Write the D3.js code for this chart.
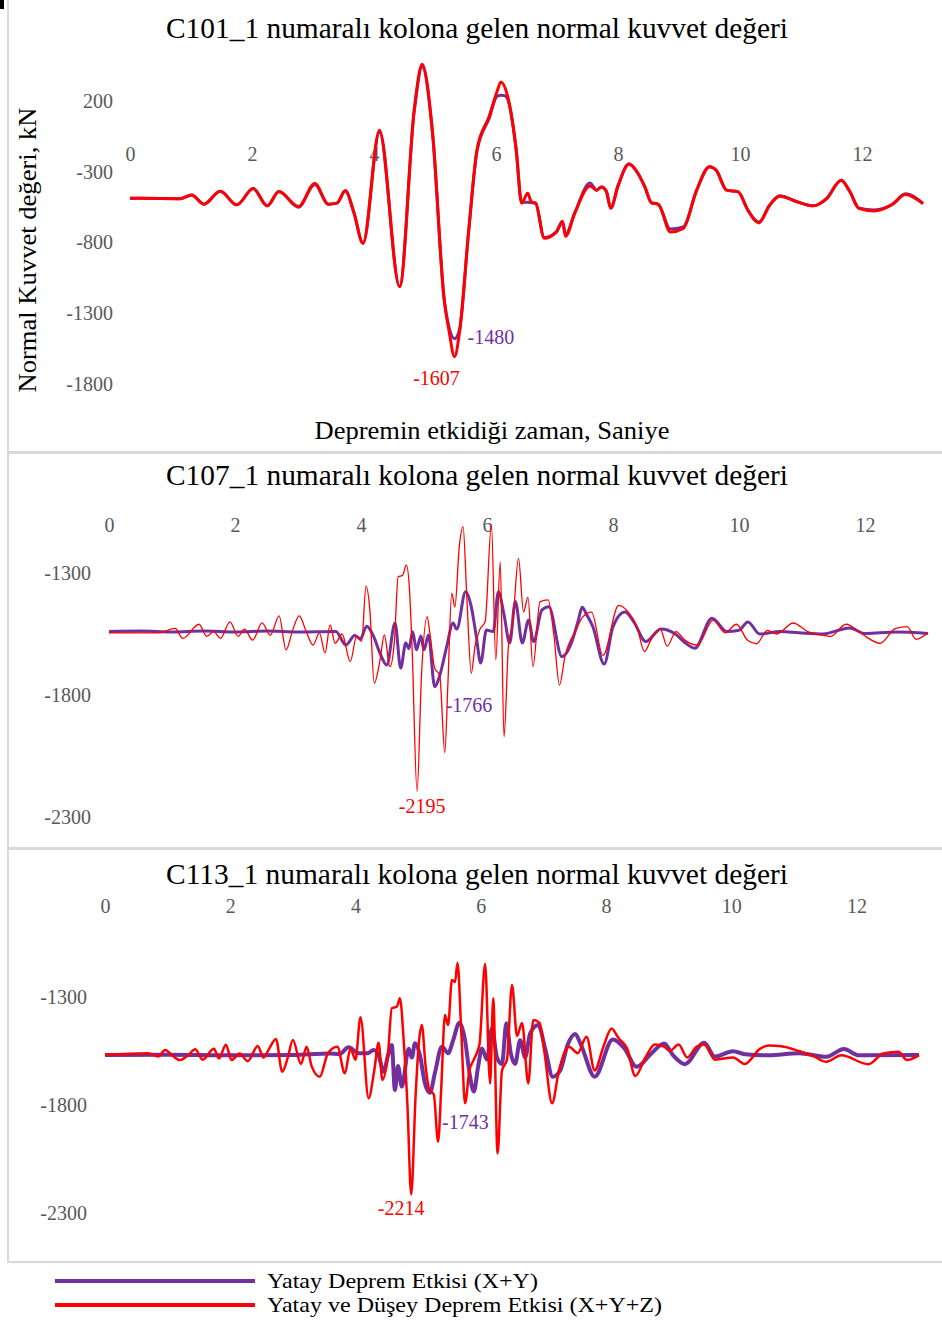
<!DOCTYPE html>
<html>
<head>
<meta charset="utf-8">
<script src="https://cdn.jsdelivr.net/npm/d3@7"></script>
<style>
  body { margin: 0; background: #fff; }
  text { font-family: "Liberation Serif", "Times New Roman", serif; }
</style>
</head>
<body>
<svg width="942" height="1324"></svg>
<script>
// time in seconds, normal force in kN
const xTicks = [0, 2, 4, 6, 8, 10, 12];
const c101Ticks = [200, -300, -800, -1300, -1800];
const c107Ticks = [-1300, -1800, -2300];
const c113Ticks = [-1300, -1800, -2300];

const titles = [
  'C101_1 numaralı kolona gelen normal kuvvet değeri',
  'C107_1 numaralı kolona gelen normal kuvvet değeri',
  'C113_1 numaralı kolona gelen normal kuvvet değeri'
];
const seriesNames = ['Yatay Deprem Etkisi (X+Y)', 'Yatay ve Düşey Deprem Etkisi (X+Y+Z)'];

// C101 - X+Y
const c101XY = [[0,-487],[0.82,-490],[1.01,-464],[1.21,-529],[1.48,-438],[1.75,-534],[2.02,-419],[2.25,-541],
  [2.44,-440],[2.76,-550],[3.03,-390],[3.25,-529],[3.39,-522],[3.53,-435],[3.67,-588],[3.82,-805],[4.09,-20],
  [4.42,-1111],[4.66,130],[4.79,440],[4.96,-30],[5.15,-1200],[5.23,-1400],[5.32,-1480],[5.40,-1420],[5.55,-729],
  [5.69,-150],[5.89,80],[6.02,235],[6.08,240],[6.14,238],[6.19,215],[6.33,-141],[6.42,-515],[6.52,-515],[6.58,-518],
  [6.65,-525],[6.79,-765],[6.99,-725],[7.09,-655],[7.14,-745],[7.29,-593],[7.54,-380],[7.65,-430],[7.73,-407],
  [7.81,-440],[7.88,-555],[8.0,-400],[8.18,-246],[8.31,-300],[8.44,-407],[8.55,-520],[8.66,-530],[8.86,-705],
  [9.07,-690],[9.29,-430],[9.5,-265],[9.61,-290],[9.78,-430],[9.97,-442],[10.13,-572],[10.31,-655],[10.48,-540],
  [10.65,-470],[10.92,-510],[11.2,-541],[11.42,-490],[11.66,-360],[11.8,-440],[11.95,-558],[12.2,-570],[12.5,-530],
  [12.71,-455],[13.0,-525]];

// C101 - X+Y+Z
const c101XYZ = [[0,-487],[0.82,-490],[1.01,-464],[1.21,-529],[1.48,-438],[1.75,-534],[2.02,-419],[2.25,-541],
  [2.44,-440],[2.76,-546],[3.03,-383],[3.25,-529],[3.39,-522],[3.53,-435],[3.67,-588],[3.82,-805],[4.09,-7],
  [4.42,-1111],[4.66,141],[4.79,459],[4.96,-24],[5.15,-1200],[5.23,-1424],[5.32,-1607],[5.40,-1440],[5.55,-729],
  [5.69,-141],[5.89,94],[6.02,271],[6.08,334],[6.19,235],[6.33,-141],[6.42,-522],[6.52,-452],[6.58,-513],
  [6.65,-520],[6.79,-770],[6.99,-725],[7.09,-650],[7.14,-756],[7.29,-593],[7.54,-400],[7.65,-430],[7.73,-407],
  [7.81,-440],[7.88,-558],[8.0,-400],[8.18,-246],[8.31,-300],[8.44,-407],[8.55,-520],[8.66,-530],[8.86,-725],
  [9.07,-700],[9.29,-430],[9.5,-265],[9.61,-290],[9.78,-430],[9.97,-442],[10.13,-572],[10.31,-662],[10.48,-540],
  [10.65,-473],[10.92,-510],[11.2,-541],[11.42,-490],[11.66,-360],[11.8,-440],[11.95,-558],[12.2,-577],[12.5,-530],
  [12.71,-461],[13.0,-525]];

// C107 - X+Y
const c107XY = [[0,-1540],[0.5,-1538],[1.0,-1542],[1.5,-1538],[2.0,-1542],[2.5,-1538],[3.0,-1542],[3.6,-1540],
  [3.76,-1595],[3.9,-1556],[3.99,-1570],[4.09,-1518],[4.20,-1560],[4.30,-1628],[4.41,-1677],[4.54,-1505],
  [4.63,-1690],[4.71,-1587],[4.76,-1610],[4.82,-1541],[4.88,-1615],[4.95,-1558],[5.0,-1615],[5.07,-1554],
  [5.17,-1766],[5.25,-1720],[5.36,-1602],[5.46,-1505],[5.52,-1530],[5.66,-1377],[5.75,-1438],[5.83,-1560],
  [5.90,-1669],[5.99,-1534],[6.10,-1540],[6.18,-1377],[6.27,-1470],[6.36,-1587],[6.45,-1417],[6.56,-1587],
  [6.66,-1493],[6.74,-1581],[6.87,-1452],[6.98,-1438],[7.19,-1643],[7.35,-1580],[7.45,-1493],[7.51,-1440],
  [7.58,-1470],[7.68,-1520],[7.86,-1673],[8.0,-1520],[8.19,-1460],[8.33,-1500],[8.52,-1581],[8.76,-1529],
  [8.99,-1550],[9.14,-1585],[9.30,-1608],[9.57,-1485],[9.81,-1540],[10.0,-1535],[10.14,-1501],[10.33,-1550],
  [10.65,-1540],[10.95,-1545],[11.33,-1550],[11.76,-1525],[12.0,-1548],[12.5,-1542],[13.0,-1548]];

// C107 - X+Y+Z
const c107XYZ = [[0,-1545],[0.79,-1545],[1.05,-1527],[1.17,-1568],[1.43,-1510],[1.55,-1560],[1.66,-1540],
  [1.77,-1568],[1.92,-1500],[2.05,-1560],[2.15,-1530],[2.28,-1575],[2.43,-1504],[2.56,-1555],[2.70,-1476],
  [2.81,-1615],[2.92,-1530],[3.02,-1476],[3.13,-1540],[3.24,-1595],[3.34,-1545],[3.43,-1627],[3.51,-1513],
  [3.59,-1588],[3.70,-1550],[3.83,-1663],[3.93,-1560],[4.01,-1580],[4.08,-1353],[4.14,-1450],[4.21,-1752],
  [4.30,-1660],[4.37,-1554],[4.46,-1684],[4.53,-1580],[4.59,-1315],[4.66,-1310],[4.72,-1267],[4.77,-1370],
  [4.81,-1600],[4.89,-2195],[4.96,-1720],[5.05,-1479],[5.09,-1540],[5.17,-1690],[5.25,-1720],[5.33,-2036],
  [5.38,-1750],[5.44,-1383],[5.49,-1440],[5.56,-1192],[5.62,-1110],[5.68,-1400],[5.75,-1711],[5.81,-1600],
  [5.89,-1530],[5.97,-1500],[6.07,-1103],[6.14,-1656],[6.21,-1254],[6.27,-1971],[6.34,-1600],[6.41,-1500],
  [6.50,-1240],[6.58,-1460],[6.65,-1400],[6.73,-1684],[6.84,-1418],[6.97,-1410],[7.06,-1550],[7.15,-1759],
  [7.24,-1640],[7.42,-1530],[7.52,-1480],[7.66,-1460],[7.84,-1638],[8.09,-1433],[8.24,-1460],[8.38,-1520],
  [8.5,-1622],[8.61,-1570],[8.75,-1530],[8.86,-1600],[9.0,-1540],[9.14,-1575],[9.34,-1595],[9.59,-1493],
  [9.78,-1545],[9.96,-1510],[10.14,-1577],[10.28,-1590],[10.45,-1535],[10.6,-1550],[10.86,-1505],[11.09,-1540],
  [11.33,-1555],[11.45,-1560],[11.7,-1510],[11.95,-1550],[12.24,-1588],[12.48,-1528],[12.67,-1520],
  [12.81,-1572],[13.0,-1545]];

// C113 - X+Y
const c113XY = [[0,-1569],[1,-1567],[2,-1570],[3,-1568],[3.59,-1561],[3.74,-1565],[3.89,-1533],[4.05,-1560],
  [4.2,-1560],[4.29,-1545],[4.37,-1570],[4.45,-1646],[4.52,-1570],[4.58,-1522],[4.63,-1731],[4.68,-1620],
  [4.74,-1715],[4.85,-1540],[4.90,-1580],[4.95,-1514],[5.03,-1570],[5.11,-1700],[5.19,-1743],[5.27,-1650],
  [5.38,-1530],[5.48,-1560],[5.56,-1500],[5.66,-1419],[5.75,-1500],[5.82,-1650],[5.89,-1738],[5.96,-1620],
  [6.02,-1538],[6.1,-1590],[6.18,-1445],[6.26,-1580],[6.34,-1610],[6.41,-1422],[6.48,-1560],[6.55,-1610],
  [6.63,-1500],[6.71,-1580],[6.79,-1468],[6.92,-1430],[7.03,-1540],[7.15,-1669],[7.27,-1640],[7.39,-1520],
  [7.51,-1471],[7.6,-1520],[7.82,-1669],[8.11,-1497],[8.3,-1540],[8.49,-1623],[8.73,-1560],[8.93,-1515],
  [9.07,-1569],[9.26,-1611],[9.57,-1512],[9.74,-1576],[10.03,-1551],[10.22,-1565],[10.6,-1570],[11.08,-1560],
  [11.52,-1577],[11.8,-1541],[12.04,-1570],[13.0,-1569]];

// C113 - X+Y+Z
const c113XYZ = [[0,-1569],[0.69,-1560],[0.85,-1575],[0.96,-1545],[1.07,-1569],[1.19,-1592],[1.33,-1569],
  [1.44,-1542],[1.56,-1590],[1.74,-1540],[1.82,-1585],[1.93,-1521],[2.02,-1592],[2.15,-1562],[2.28,-1597],
  [2.44,-1527],[2.53,-1580],[2.62,-1540],[2.73,-1494],[2.83,-1646],[2.92,-1580],[3.0,-1499],[3.13,-1610],
  [3.22,-1530],[3.30,-1620],[3.43,-1669],[3.56,-1560],[3.71,-1530],[3.83,-1653],[3.92,-1540],[4.0,-1590],
  [4.08,-1394],[4.21,-1769],[4.30,-1640],[4.37,-1512],[4.43,-1684],[4.52,-1560],[4.58,-1352],[4.66,-1345],
  [4.71,-1306],[4.77,-1500],[4.83,-1800],[4.89,-2214],[4.96,-1760],[5.01,-1520],[5.06,-1430],[5.12,-1620],
  [5.18,-1730],[5.25,-1750],[5.32,-1970],[5.37,-1720],[5.43,-1383],[5.48,-1430],[5.54,-1221],[5.59,-1230],
  [5.63,-1141],[5.69,-1460],[5.75,-1792],[5.82,-1640],[5.89,-1590],[5.98,-1520],[6.07,-1147],[6.15,-1700],
  [6.20,-1306],[6.27,-2024],[6.34,-1640],[6.42,-1590],[6.50,-1244],[6.58,-1480],[6.66,-1420],[6.76,-1700],
  [6.84,-1407],[6.94,-1420],[7.02,-1560],[7.14,-1792],[7.25,-1640],[7.41,-1530],[7.55,-1560],[7.69,-1484],
  [7.82,-1640],[7.96,-1530],[8.09,-1446],[8.2,-1490],[8.34,-1540],[8.47,-1666],[8.63,-1580],[8.78,-1520],
  [8.93,-1530],[9.02,-1550],[9.16,-1520],[9.3,-1580],[9.45,-1530],[9.57,-1520],[9.74,-1590],[10.03,-1580],
  [10.22,-1610],[10.46,-1540],[10.6,-1525],[10.8,-1528],[11.08,-1550],[11.32,-1575],[11.52,-1600],[11.76,-1570],
  [12.19,-1611],[12.43,-1562],[12.67,-1554],[12.81,-1592],[13.0,-1569]];

const purple = '#7030a0';
const red = '#ff0000';
const svg = d3.select('svg');

// little black corner mark of the original page
svg.append('rect').attr('x', 0).attr('y', 0).attr('width', 4).attr('height', 9).attr('fill', '#000');

const panels = [
  { box: [8, -1, 945, 452], title: titles[0], titleY: 38, ticks: c101Ticks,
    xr: [130, 923], yd: [-1800, 200], yr: [384, 101], xLabY: 155, yLabX: 113,
    xy: c101XY, xyz: c101XYZ, wXY: 3, wXYZ: 3,
    lblXY: [13, -2, 'start'], lblXYZ: [-18, 21, 'middle'] },
  { box: [8, 453, 945, 848], title: titles[1], titleY: 485, ticks: c107Ticks,
    xr: [109, 928], yd: [-2300, -1300], yr: [817, 573], xLabY: 526, yLabX: 91,
    xy: c107XY, xyz: c107XYZ, wXY: 3, wXYZ: 1.3,
    lblXY: [11, 18, 'start'], lblXYZ: [5, 15, 'middle'] },
  { box: [8, 849, 945, 1262], title: titles[2], titleY: 884, ticks: c113Ticks,
    xr: [105, 919], yd: [-2300, -1300], yr: [1213, 997], xLabY: 907, yLabX: 87,
    xy: c113XY, xyz: c113XYZ, wXY: 4, wXYZ: 2.5,
    lblXY: [12, 29, 'start'], lblXYZ: [-10, 14, 'middle'] }
];

panels.forEach(p => {
  const g = svg.append('g');
  g.append('rect')
    .attr('x', p.box[0]).attr('y', p.box[1])
    .attr('width', p.box[2] - p.box[0]).attr('height', p.box[3] - p.box[1])
    .attr('fill', 'none').attr('stroke', '#d9d9d9').attr('stroke-width', 2);

  g.append('text')
    .attr('x', 477).attr('y', p.titleY)
    .attr('text-anchor', 'middle')
    .attr('textLength', 622).attr('lengthAdjust', 'spacingAndGlyphs')
    .style('font-size', '29px').style('fill', '#000')
    .text(p.title);

  const x = d3.scaleLinear().domain([0, 13]).range(p.xr);
  const y = d3.scaleLinear().domain(p.yd).range(p.yr);

  // plain hyphen minus, no thousands separator, like the original
  const fmt = d => String(d);
  const xAxis = g.append('g')
    .attr('transform', `translate(0,${p.xLabY - 8})`)
    .call(d3.axisBottom(x).tickValues(xTicks).tickFormat(fmt).tickSize(0).tickPadding(0));
  const yAxis = g.append('g')
    .attr('transform', `translate(${p.yLabX},0)`)
    .call(d3.axisLeft(y).tickValues(p.ticks).tickFormat(fmt).tickSize(0).tickPadding(0));
  [xAxis, yAxis].forEach(a => {
    a.select('.domain').remove();
    a.selectAll('text')
      .style('font-family', '"Liberation Serif", serif')
      .style('font-size', '20px').style('fill', '#595959');
  });

  const line = d3.line()
    .x(d => x(d[0])).y(d => y(d[1]))
    .curve(d3.curveMonotoneX);

  g.append('path').datum(p.xy)
    .attr('d', line).attr('fill', 'none')
    .attr('stroke', purple).attr('stroke-width', p.wXY).attr('stroke-linejoin', 'round');
  g.append('path').datum(p.xyz)
    .attr('d', line).attr('fill', 'none')
    .attr('stroke', red).attr('stroke-width', p.wXYZ).attr('stroke-linejoin', 'round');

  // minimum value labels
  [[p.xy, purple, p.lblXY], [p.xyz, red, p.lblXYZ]].forEach(([data, col, off]) => {
    const m = d3.least(data, d => d[1]);
    g.append('text')
      .attr('x', x(m[0]) + off[0]).attr('y', y(m[1]) + off[1])
      .attr('dy', '0.35em')
      .attr('text-anchor', off[2])
      .style('font-size', '20px').style('fill', col)
      .text(m[1]);
  });
});

// axis titles (first panel)
svg.append('text')
  .attr('transform', 'translate(36,250) rotate(-90)')
  .attr('text-anchor', 'middle')
  .attr('textLength', 285).attr('lengthAdjust', 'spacingAndGlyphs')
  .style('font-size', '25px').style('fill', '#000')
  .text('Normal Kuvvet değeri, kN');
svg.append('text')
  .attr('x', 492).attr('y', 439)
  .attr('text-anchor', 'middle')
  .attr('textLength', 355).attr('lengthAdjust', 'spacingAndGlyphs')
  .style('font-size', '25px').style('fill', '#000')
  .text('Depremin etkidiği zaman, Saniye');

// legend
const legend = svg.append('g');
[[purple, 1281, 271], [red, 1305, 395]].forEach(([col, ly, tl], i) => {
  legend.append('line')
    .attr('x1', 55).attr('x2', 255).attr('y1', ly).attr('y2', ly)
    .attr('stroke', col).attr('stroke-width', 4);
  legend.append('text')
    .attr('x', 267).attr('y', ly + 7)
    .attr('textLength', tl).attr('lengthAdjust', 'spacingAndGlyphs')
    .style('font-size', '22px').style('fill', '#000')
    .text(seriesNames[i]);
});
</script>
</body>
</html>
